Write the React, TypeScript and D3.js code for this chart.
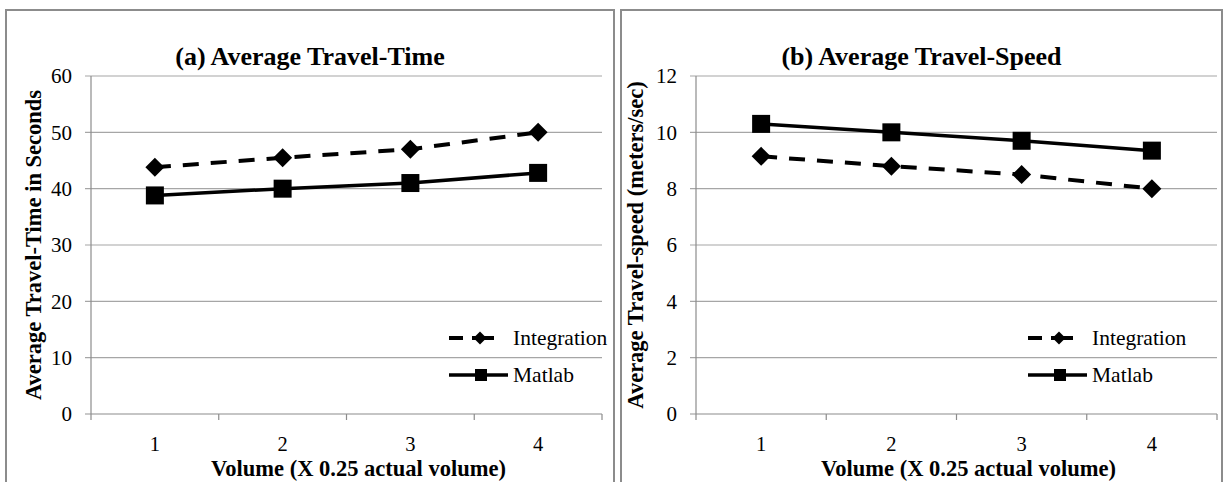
import * as d3 from "d3";

const volumes = ["1", "2", "3", "4"];

const timeIntegration = [43.8, 45.5, 47.0, 50.0];
const timeMatlab = [38.8, 40.0, 41.0, 42.8];
const timeTicks = [0, 10, 20, 30, 40, 50, 60];

const speedIntegration = [9.15, 8.8, 8.5, 8.0];
const speedMatlab = [10.3, 10.0, 9.7, 9.35];
const speedTicks = [0, 2, 4, 6, 8, 10, 12];

const seriesNames = ["Integration", "Matlab"];

const font = "'Liberation Serif', 'Times New Roman', serif";
const gridColor = "#a6a6a6";
const frameColor = "#8c8c8c";

const plotTop = 76;
const plotBottom = 414;

type PanelProps = {
  boxLeft: number;
  boxRight: number;
  plotLeft: number;
  plotRight: number;
  title: string;
  yTitle: string;
  yTitleX: number;
  ticks: number[];
  integration: number[];
  matlab: number[];
  legendX: number;
  legendTextX: number;
};

const Panel = ({
  boxLeft,
  boxRight,
  plotLeft,
  plotRight,
  title,
  yTitle,
  yTitleX,
  ticks,
  integration,
  matlab,
  legendX,
  legendTextX,
}: PanelProps) => {
  const xScale = d3
    .scaleBand()
    .domain(volumes)
    .range([plotLeft, plotRight])
    .padding(0);

  const yScale = d3
    .scaleLinear()
    .domain([0, d3.max(ticks) as number])
    .range([plotBottom, plotTop]);

  const cx = (d: string) => (xScale(d) as number) + xScale.bandwidth() / 2;

  const line = d3
    .line<number>()
    .x((_, i) => cx(volumes[i]))
    .y((v) => yScale(v));

  // category boundaries for the x-axis ticks
  const bounds = volumes.map((d) => xScale(d) as number).concat([plotRight]);

  const diamond = (x: number, y: number, r: number) =>
    `M${x},${y - r}L${x + r},${y}L${x},${y + r}L${x - r},${y}Z`;

  const legY1 = 338;
  const legY2 = 375;

  return (
    <g>
      <rect
        x={boxLeft}
        y={10}
        width={boxRight - boxLeft}
        height={500}
        fill="white"
        stroke={frameColor}
        strokeWidth={2}
      />
      <text
        x={(boxLeft + boxRight) / 2}
        y={65}
        textAnchor="middle"
        fontFamily={font}
        fontWeight="bold"
        fontSize={26}
      >
        {title}
      </text>

      {/* gridlines and y ticks */}
      {ticks.map((t) => (
        <g key={t}>
          <line
            x1={plotLeft - 6}
            x2={t === 0 ? plotLeft : plotRight}
            y1={yScale(t)}
            y2={yScale(t)}
            stroke={gridColor}
            strokeWidth={1.2}
          />
          <text
            x={plotLeft - 19}
            y={yScale(t)}
            dy="0.35em"
            textAnchor="end"
            fontFamily={font}
            fontSize={21}
          >
            {t}
          </text>
        </g>
      ))}

      {/* axes */}
      <line
        x1={plotLeft}
        x2={plotLeft}
        y1={plotTop}
        y2={plotBottom}
        stroke={frameColor}
        strokeWidth={1.2}
      />
      <line
        x1={plotLeft}
        x2={plotRight}
        y1={plotBottom}
        y2={plotBottom}
        stroke={frameColor}
        strokeWidth={1.2}
      />
      {bounds.map((b, i) => (
        <line
          key={i}
          x1={b}
          x2={b}
          y1={plotBottom}
          y2={plotBottom + 6}
          stroke={frameColor}
          strokeWidth={1.2}
        />
      ))}
      {volumes.map((d) => (
        <text
          key={d}
          x={cx(d)}
          y={451}
          textAnchor="middle"
          fontFamily={font}
          fontSize={20.5}
        >
          {d}
        </text>
      ))}

      <text
        x={(plotLeft + plotRight) / 2 + 12}
        y={476}
        textAnchor="middle"
        fontFamily={font}
        fontWeight="bold"
        fontSize={22.5}
      >
        Volume (X 0.25 actual volume)
      </text>
      <text
        transform={`translate(${yTitleX},${(plotTop + plotBottom) / 2}) rotate(-90)`}
        textAnchor="middle"
        fontFamily={font}
        fontWeight="bold"
        fontSize={22.5}
      >
        {yTitle}
      </text>

      {/* series */}
      <path
        d={line(integration) ?? ""}
        fill="none"
        stroke="black"
        strokeWidth={4}
        strokeDasharray="16,12"
      />
      <path d={line(matlab) ?? ""} fill="none" stroke="black" strokeWidth={3.5} />
      {integration.map((v, i) => (
        <path key={i} d={diamond(cx(volumes[i]), yScale(v), 9.5)} fill="black" />
      ))}
      {matlab.map((v, i) => (
        <rect
          key={i}
          x={cx(volumes[i]) - 9}
          y={yScale(v) - 9}
          width={18}
          height={18}
          fill="black"
        />
      ))}

      {/* legend */}
      <line
        x1={legendX}
        x2={legendX + 14}
        y1={legY1}
        y2={legY1}
        stroke="black"
        strokeWidth={4}
      />
      <line
        x1={legendX + 23}
        x2={legendX + 45}
        y1={legY1}
        y2={legY1}
        stroke="black"
        strokeWidth={4}
      />
      <path d={diamond(legendX + 31, legY1, 6.5)} fill="black" />
      <text
        x={legendTextX}
        y={legY1}
        dy="0.32em"
        fontFamily={font}
        fontSize={21.5}
      >
        {seriesNames[0]}
      </text>
      <line
        x1={legendX}
        x2={legendX + 59}
        y1={legY2}
        y2={legY2}
        stroke="black"
        strokeWidth={3.5}
      />
      <rect x={legendX + 26} y={legY2 - 6} width={12} height={12} fill="black" />
      <text
        x={legendTextX}
        y={legY2}
        dy="0.32em"
        fontFamily={font}
        fontSize={21.5}
      >
        {seriesNames[1]}
      </text>
    </g>
  );
};

export default function App() {
  return (
    <svg
      width={1225}
      height={482}
      style={{ position: "absolute", left: 0, top: 0, background: "white" }}
    >
      <Panel
        boxLeft={6}
        boxRight={614}
        plotLeft={91}
        plotRight={602}
        title="(a) Average Travel-Time"
        yTitle="Average Travel-Time in Seconds"
        yTitleX={41}
        ticks={timeTicks}
        integration={timeIntegration}
        matlab={timeMatlab}
        legendX={449}
        legendTextX={513}
      />
      <Panel
        boxLeft={621}
        boxRight={1222}
        plotLeft={696}
        plotRight={1217}
        title="(b) Average Travel-Speed"
        yTitle="Average Travel-speed (meters/sec)"
        yTitleX={643}
        ticks={speedTicks}
        integration={speedIntegration}
        matlab={speedMatlab}
        legendX={1028}
        legendTextX={1092}
      />
    </svg>
  );
}
